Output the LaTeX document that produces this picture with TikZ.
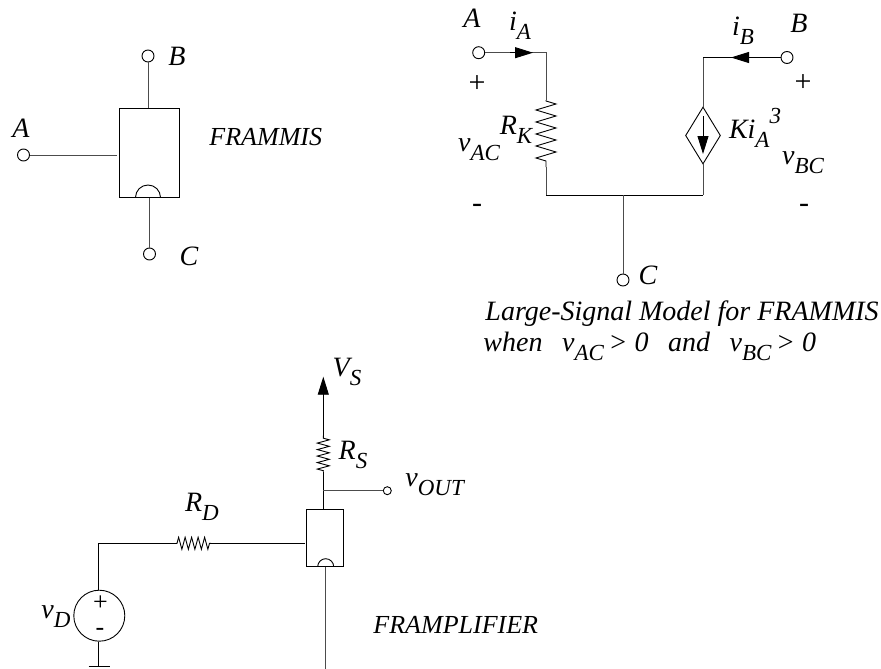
\documentclass[tikz,border=0pt]{standalone}
\usepackage{fontspec}
\setmainfont{Liberation Serif}
\usetikzlibrary{arrows.meta,shapes.geometric,decorations.pathmorphing}
\newcommand{\lowsub}[2]{\textit{#1\raisebox{-0.32em}{\fontsize{23}{23}\selectfont #2}}}
\tikzset{
	every picture/.style={line width=0.9pt},
	terminal/.style={circle,draw,inner sep=0pt,minimum size=#1},
	terminal/.default=12pt,
	label/.style={inner sep=0pt,font=\fontsize{28}{28}\selectfont\itshape},
	bodytext/.style={inner sep=0pt,font=\fontsize{26}{26}\selectfont\itshape},
	signtext/.style={inner sep=0pt,font=\fontsize{#1}{#1}\selectfont},
	signtext/.default=30,
	wire/.style={draw=black!70!white},
	zigzag/.style 2 args={decorate,decoration={zigzag,segment length=#1,amplitude=#2,pre length=1pt,post length=1pt}},
	tip/.style={-{Triangle[length=18pt,width=11pt]}},
}
\begin{document}
\begin{tikzpicture}[x=1pt,y=-1pt]
	\useasboundingbox (0,0) rectangle (881,669);
	% FRAMMIS symbol
	\node[draw,minimum width=60pt,minimum height=89pt,inner sep=0pt] (box) at (149.5,153) {};
	\node[terminal] (tA) at (23.5,155) {};
	\node[terminal] (tB) at (148,56) {};
	\node[terminal] (tC) at (149.5,254) {};
	\draw[wire] (tA) -- (117,155);
	\draw[wire] (tB) -- (tB|-box.north);
	\draw[wire] (tC) -- (tC|-box.south);
	\draw (135.5,197.5) arc (180:360:12.5);
	\node[label] (lA) at (21,128) {A};
	\node[label] (lB) at (177,56) {B};
	\node[label] (lC) at (189,256) {C};
	\node[bodytext,anchor=west] (lname) at (209,137) {FRAMMIS};
	% large-signal model
	\node[terminal] (mA) at (478.7,52.7) {};
	\node[terminal] (mB) at (787,57.5) {};
	\node[terminal] (mC) at (623,280) {};
	\coordinate (aTop) at (546,52.7);
	\coordinate (aRes) at (546,100);
	\coordinate (bRes) at (546,167);
	\coordinate (aBot) at (546,195);
	\coordinate (dBot) at (703,195);
	\coordinate (dTop) at (703,57.5);
	\coordinate (mJoin) at (623,195);
	\node[diamond,draw,minimum width=35pt,minimum height=57pt,inner sep=0pt,aspect=0.6] (dep) at (703,135.5) {};
	\draw[wire] (mA) -- (aTop) -- (aRes);
	\draw[zigzag={12pt}{10pt}] (aRes) -- (bRes);
	\draw[wire] (bRes) -- (aBot);
	\draw (aBot) -- (dBot);
	\draw[wire] (dBot) -- (dep.south);
	\draw[wire] (dep.north) -- (dTop);
	\draw (dTop) -- (mB);
	\draw[wire] (mJoin) -- (mC);
	\coordinate (tipA) at (533,52.7);
	\coordinate (tipB) at (731,57.5);
	\coordinate (tailA) at (510,52.7);
	\coordinate (tailB) at (760,57.5);
	\draw[tip] (tailA) -- (tipA);
	\draw[tip] (tailB) -- (tipB);
	\coordinate (dTail) at (703,116);
	\coordinate (dTip) at (703,154);
	\draw[tip] (dTail) -- (dTip);
	\node[label] (mlA) at (472,18) {A};
	\node[label] (mlB) at (799,23) {B};
	\node[label] (mlC) at (648,275) {C};
	\node[label] (mia) at (520,26) {\lowsub{i}{A}};
	\node[label] (mib) at (743,31) {\lowsub{i}{B}};
	\node[label] (mrk) at (516,130) {\lowsub{R}{K}};
	\node[label] (mvac) at (479,150) {\lowsub{v}{AC}};
	\node[label] (mvbc) at (803,163) {\lowsub{v}{BC}};
	\node[label] (mki) at (755,128) {\lowsub{Ki}{A}\raisebox{0.55em}{\fontsize{23}{23}\selectfont 3}};
	\node[signtext] (pA) at (477,84) {+};
	\node[signtext] (nA) at (477,208) {-};
	\node[signtext] (pB) at (803,83) {+};
	\node[signtext] (nB) at (804,208) {-};
	\node[label,anchor=west] (cap1) at (485,314) {Large-Signal Model for FRAMMIS};
	\node[label,anchor=west] (cap2) at (483,346) {when\hspace{0.7em}\lowsub{v}{AC}\,> 0\hspace{0.7em}and\hspace{0.7em}\lowsub{v}{BC}\,> 0};
	% FRAMPLIFIER circuit
	\node[draw,minimum width=36.6pt,minimum height=57.4pt,inner sep=0pt] (amp) at (325,538) {};
	\node[terminal=8pt] (tOut) at (387.3,490.7) {};
	\node[circle,draw,minimum size=51pt,inner sep=0pt] (src) at (99.3,615.7) {};
	\coordinate (vs) at (323.3,376.7);
	\coordinate (rsTop) at (323.3,435.7);
	\coordinate (rsBot) at (323.3,471.7);
	\coordinate (join) at (323.3,490.7);
	\coordinate (corner) at (98.3,543.3);
	\coordinate (rdL) at (176,543.3);
	\coordinate (rdR) at (211,543.3);
	\coordinate (ampIn) at (305,543.3);
	\coordinate (ampTop) at (323.3,509.3);
	\coordinate (ampBot) at (325.7,566.7);
	\coordinate (ampEnd) at (325.7,669);
	\coordinate (gnd) at (98.3,666.5);
	\draw[tip] (rsTop) -- (vs);
	\draw[zigzag={6.5pt}{6pt}] (rsBot) -- (rsTop);
	\draw (rsBot) -- (ampTop);
	\draw[wire] (join) -- (tOut);
	\draw (src.north-|corner) -- (corner) -- (rdL);
	\draw[zigzag={6.5pt}{6pt}] (rdL) -- (rdR);
	\draw (rdR) -- (ampIn);
	\draw (src.south-|gnd) -- (gnd);
	\draw (88.5,666.5) -- (109.5,666.5);
	\draw (317.7,566.7) arc (180:360:8);
	\draw[wire,line width=1.2pt] (ampBot) -- (ampEnd);
	\node[label] (lvs) at (347,372) {\lowsub{V}{S}};
	\node[label] (lrs) at (353,455) {\lowsub{R}{S}};
	\node[label,anchor=west] (lvo) at (405,485) {\lowsub{v}{OUT}};
	\node[label] (lrd) at (202,507) {\lowsub{R}{D}};
	\node[label] (lvd) at (56,617) {\lowsub{v}{D}};
	\node[signtext=26] (ps) at (100.5,603) {+};
	\node[signtext=26] (ns) at (100,632) {-};
	\node[bodytext,anchor=west] (lamp) at (373,625) {FRAMPLIFIER};
\end{tikzpicture}
\end{document}
